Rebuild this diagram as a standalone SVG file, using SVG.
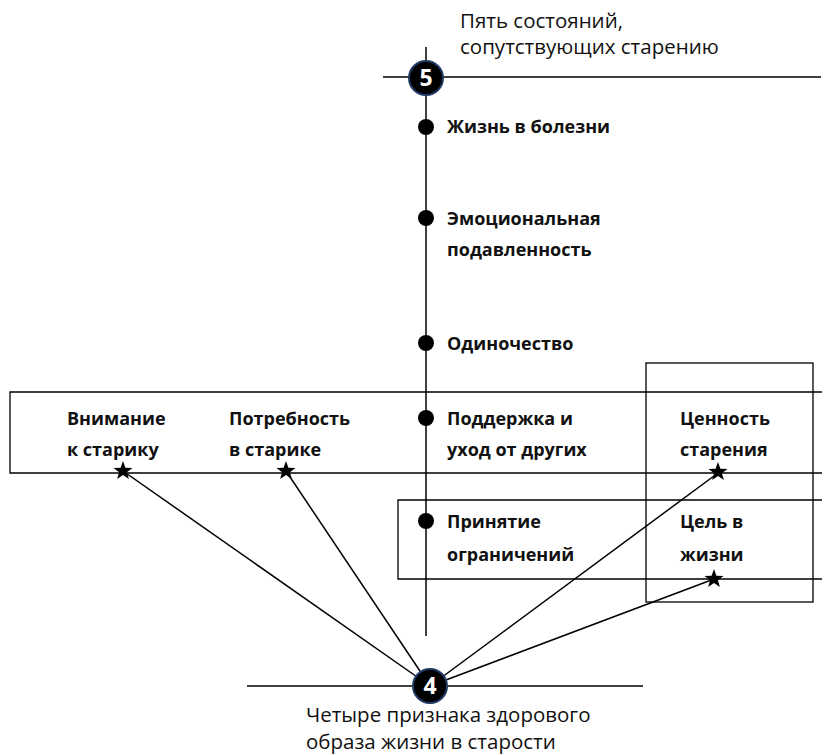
<svg xmlns="http://www.w3.org/2000/svg" width="825" height="755" viewBox="0 0 825 755">
<style>
.ln{stroke:#000;stroke-width:1.5;fill:none}
.box{stroke:#000;stroke-width:1.3;fill:none}
.lb{font-family:"Open Sans","Noto Sans",sans-serif;font-weight:bold;font-size:18px;fill:#111}
.tt{font-family:"Open Sans","Noto Sans",sans-serif;font-size:20.5px;fill:#111}
.num{font-family:"Open Sans","Noto Sans",sans-serif;font-weight:bold;font-size:23px;fill:#fff;text-anchor:middle}
.dot{fill:#000}
.badge{fill:#000;stroke:#1f3864;stroke-width:2}
</style>
<defs>
<polygon id="star" points="0,-10 2.4,-3.3 9.5,-3.1 3.9,1.3 5.9,8.1 0,4.1 -5.9,8.1 -3.9,1.3 -9.5,-3.1 -2.4,-3.3" fill="#000"/>
</defs>
<g id="boxes">
<path class="box" d="M822,392 H10 V473 H822"/>
<path class="box" d="M822,500 H398 V579 H822"/>
<rect class="box" x="646" y="363" width="167" height="239"/>
</g>
<g id="connectors">
<line class="ln" x1="426" y1="47" x2="426" y2="636"/>
<line class="ln" x1="383" y1="77" x2="821" y2="77"/>
<line class="ln" x1="247" y1="686" x2="643" y2="686"/>
<line class="ln" x1="430" y1="686" x2="123" y2="471"/>
<line class="ln" x1="430" y1="686" x2="286" y2="471"/>
<line class="ln" x1="430" y1="686" x2="718" y2="473"/>
<line class="ln" x1="430" y1="686" x2="714" y2="579"/>
</g>
<g id="node-5">
<circle class="badge" cx="426" cy="78" r="17"/>
<text class="num" x="426" y="86">5</text>
<text class="tt" x="460" y="28">Пять состояний,</text>
<text class="tt" x="460" y="54">сопутствующих старению</text>
</g>
<g id="node-4">
<circle class="badge" cx="430" cy="686" r="17"/>
<text class="num" x="430" y="694">4</text>
<text class="tt" x="306" y="722">Четыре признака здорового</text>
<text class="tt" x="306" y="749">образа жизни в старости</text>
</g>
<g id="state-1"><circle class="dot" cx="426" cy="127" r="8"/><text class="lb" x="447" y="133">Жизнь в болезни</text></g>
<g id="state-2"><circle class="dot" cx="426" cy="218" r="8"/><text class="lb" x="447" y="225">Эмоциональная</text><text class="lb" x="447" y="256">подавленность</text></g>
<g id="state-3"><circle class="dot" cx="426" cy="343" r="8"/><text class="lb" x="447" y="350">Одиночество</text></g>
<g id="state-4"><circle class="dot" cx="426" cy="418" r="8"/><text class="lb" x="447" y="425">Поддержка и</text><text class="lb" x="447" y="456">уход от других</text></g>
<g id="state-5"><circle class="dot" cx="426" cy="521" r="8"/><text class="lb" x="447" y="528">Принятие</text><text class="lb" x="447" y="561">ограничений</text></g>
<g id="sign-1"><text class="lb" x="67" y="425">Внимание</text><text class="lb" x="67" y="456">к старику</text><use href="#star" x="123" y="471"/></g>
<g id="sign-2"><text class="lb" x="229" y="425">Потребность</text><text class="lb" x="229" y="456">в старике</text><use href="#star" x="286" y="471"/></g>
<g id="sign-3"><text class="lb" x="680" y="425">Ценность</text><text class="lb" x="680" y="456">старения</text><use href="#star" x="718" y="472"/></g>
<g id="sign-4"><text class="lb" x="680" y="528">Цель в</text><text class="lb" x="680" y="561">жизни</text><use href="#star" x="714" y="579"/></g>
</svg>
